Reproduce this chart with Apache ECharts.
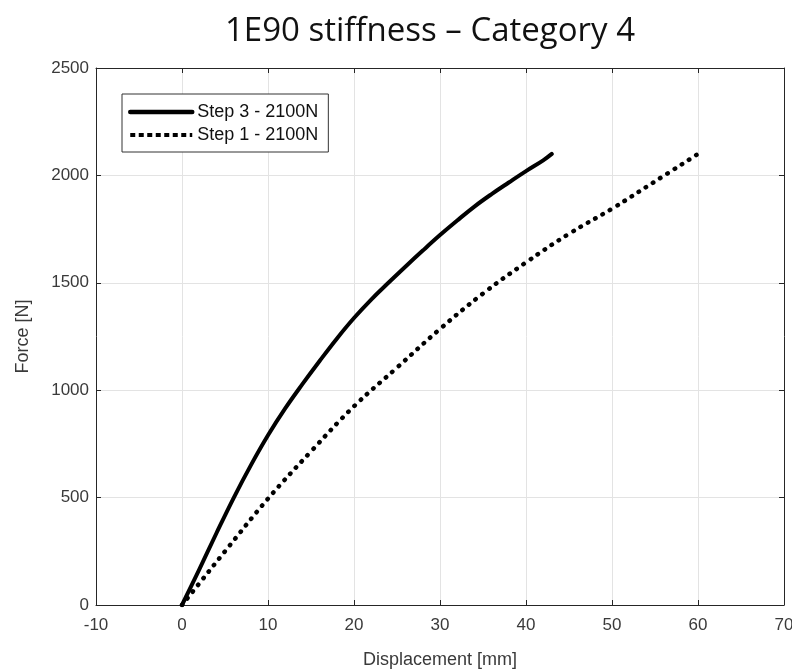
<!DOCTYPE html>
<html>
<head>
<meta charset="utf-8">
<script src="https://cdn.jsdelivr.net/npm/echarts@6/dist/echarts.min.js"></script>
<style>
  html, body { margin: 0; padding: 0; background: #fff; }
  #chart { width: 792px; height: 671px; }
</style>
</head>
<body>
<div id="chart"></div>
<script>
// Force–displacement curves for the 1E90 stiffness test
const step3Disp  = [0, 2, 4, 6, 8, 10, 12, 14, 16, 18, 20, 22, 24, 26, 28, 30, 32, 34, 36, 38, 40, 42, 43];
const step3Force = [0, 165, 334, 498, 650, 790, 915, 1028, 1136, 1240, 1336, 1422, 1500, 1576, 1650, 1722, 1790, 1855, 1913, 1967, 2020, 2070, 2100];

const step1Disp  = [0, 2, 5, 10, 15, 20, 25, 30, 35, 40, 45, 50, 55, 60];
const step1Force = [0, 100, 250, 495, 715, 925, 1105, 1285, 1450, 1595, 1728, 1845, 1972, 2100];

const seriesNames = ['Step 3 - 2100N', 'Step 1 - 2100N'];
const xTicks = { min: -10, max: 70, interval: 10 };
const yTicks = { min: 0, max: 2500, interval: 500 };

const pairs = (xs, ys) => xs.map((x, i) => [x, ys[i]]);

const textColor = '#3a3a3a';
const frameColor = '#262626';
const gridColor = '#e3e3e3';

const chart = echarts.init(document.getElementById('chart'), null, { renderer: 'canvas' });

const plain = v => String(v);

const baseX = {
  type: 'value', min: xTicks.min, max: xTicks.max, interval: xTicks.interval,
  axisLine: { show: true, onZero: false, lineStyle: { color: frameColor, width: 1 } },
  axisTick: { show: true, inside: true, length: 5, lineStyle: { color: frameColor } },
  splitLine: { show: false }
};
const baseY = {
  type: 'value', min: yTicks.min, max: yTicks.max, interval: yTicks.interval,
  axisLine: { show: true, onZero: false, lineStyle: { color: frameColor, width: 1 } },
  axisTick: { show: true, inside: true, length: 5, lineStyle: { color: frameColor } },
  splitLine: { show: false }
};

chart.setOption({
  animation: false,
  backgroundColor: '#ffffff',
  title: {
    text: '1E90 stiffness \u2013 Category 4',
    left: 425, top: 10, textAlign: 'center',
    textStyle: { fontFamily: 'Open Sans', fontWeight: 'normal', fontSize: 33, color: '#111' }
  },
  grid: { left: 96, right: 8, top: 68, bottom: 66, containLabel: false, outerBoundsMode: 'none' },
  legend: {
    orient: 'vertical',
    left: 122, top: 94,
    itemWidth: 62, itemHeight: 14, itemGap: 5,
    padding: [9, 10, 8, 6],
    borderColor: '#333', borderWidth: 1, backgroundColor: '#fff',
    itemStyle: { opacity: 0 },
    lineStyle: { width: 4 },
    textStyle: { fontFamily: 'Liberation Sans', fontSize: 18, color: '#111' },
    data: [
      { name: seriesNames[0], lineStyle: { width: 4.5, type: 'solid' } },
      { name: seriesNames[1], lineStyle: { width: 4, type: [5, 3.5], cap: 'butt' } }
    ]
  },
  xAxis: [
    Object.assign({}, baseX, {
      position: 'bottom',
      name: 'Displacement [mm]', nameLocation: 'middle', nameGap: 46,
      nameTextStyle: { fontFamily: 'Liberation Sans', fontSize: 18, color: textColor },
      axisLabel: { margin: 12, fontFamily: 'Liberation Sans', fontSize: 17, color: textColor, formatter: plain },
      splitLine: { show: true, lineStyle: { color: gridColor, width: 1 } }
    }),
    Object.assign({}, baseX, { position: 'top', axisLabel: { show: false } })
  ],
  yAxis: [
    Object.assign({}, baseY, {
      position: 'left',
      name: 'Force [N]', nameLocation: 'middle', nameGap: 64,
      nameTextStyle: { fontFamily: 'Liberation Sans', fontSize: 18, color: textColor },
      axisLabel: { margin: 7, fontFamily: 'Liberation Sans', fontSize: 17, color: textColor, formatter: plain },
      splitLine: { show: true, lineStyle: { color: gridColor, width: 1 } }
    }),
    Object.assign({}, baseY, { position: 'right', axisLabel: { show: false } })
  ],
  series: [
    {
      name: seriesNames[0], type: 'line', xAxisIndex: 0, yAxisIndex: 0,
      data: pairs(step3Disp, step3Force),
      symbol: 'none', smooth: 0.4,
      lineStyle: { color: '#000', width: 4, cap: 'round', join: 'round' },
      itemStyle: { color: '#000' }, z: 3
    },
    {
      name: seriesNames[1], type: 'line', xAxisIndex: 0, yAxisIndex: 0,
      data: pairs(step1Disp, step1Force),
      symbol: 'none', smooth: 0.4,
      lineStyle: { color: '#000', width: 4.5, type: [0.5, 8], cap: 'round', join: 'round' },
      itemStyle: { color: '#000' }, z: 3
    }
  ]
});
</script>
</body>
</html>
